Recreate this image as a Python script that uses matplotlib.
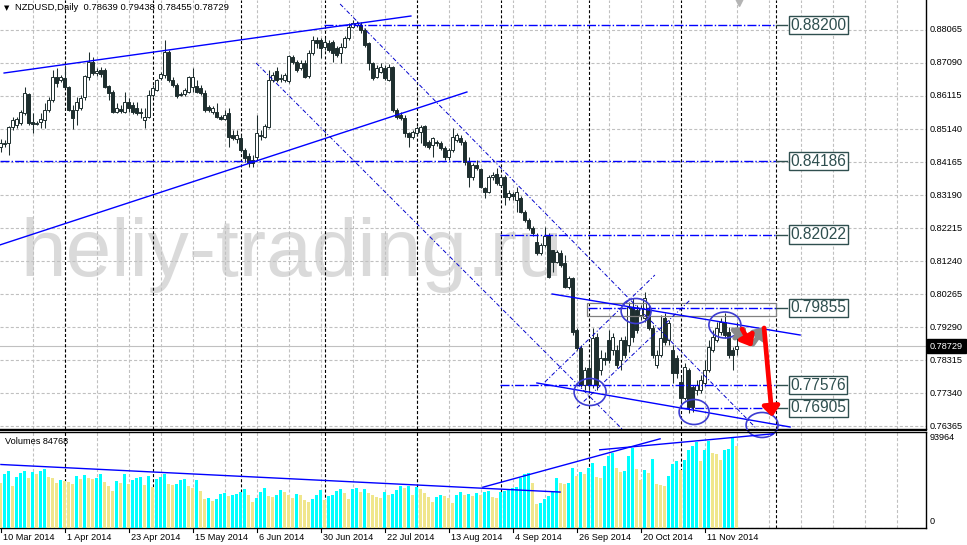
import matplotlib
matplotlib.use('Agg')
import matplotlib.pyplot as plt
from matplotlib.patches import Rectangle, Ellipse
from matplotlib.lines import Line2D

plt.rcParams['font.family'] = ['Liberation Sans', 'DejaVu Sans']
plt.rcParams['lines.scale_dashes'] = False

# ---------------- data ----------------
opens = [0.8461,0.8470,0.8473,0.8520,0.8526,0.8532,0.8561,0.8617,0.8535,0.8529,
         0.8535,0.8541,0.8570,0.8600,0.8668,0.8659,0.8665,0.8638,0.8570,0.8570,
         0.8576,0.8608,0.8668,0.8712,0.8679,0.8688,0.8688,0.8641,0.8623,0.8564,
         0.8573,0.8564,0.8594,0.8585,0.8576,0.8564,0.8541,0.8549,0.8614,0.8629,
         0.8665,0.8673,0.8741,0.8659,0.8644,0.8617,0.8617,0.8623,0.8638,0.8641,
         0.8635,0.8620,0.8579,0.8564,0.8564,0.8549,0.8543,0.8561,0.8496,0.8484,
         0.8487,0.8452,0.8434,0.8422,0.8431,0.8496,0.8490,0.8520,0.8659,0.8685,
         0.8662,0.8659,0.8656,0.8727,0.8712,0.8694,0.8709,0.8670,0.8738,0.8777,
         0.8777,0.8756,0.8768,0.8771,0.8753,0.8738,0.8756,0.8783,0.8815,0.8821,
         0.8821,0.8806,0.8768,0.8709,0.8668,0.8682,0.8694,0.8659,0.8697,0.8570,
         0.8555,0.8546,0.8502,0.8490,0.8502,0.8505,0.8523,0.8476,0.8467,0.8476,
         0.8473,0.8458,0.8431,0.8452,0.8481,0.8487,0.8476,0.8416,0.8372,0.8408,
         0.8396,0.8340,0.8328,0.8372,0.8381,0.8349,0.8372,0.8313,0.8322,0.8304,
         0.8310,0.8269,0.8245,0.8221,0.8180,0.8148,0.8171,0.8201,0.8156,0.8121,
         0.8148,0.8118,0.8047,0.8074,0.7920,0.7867,0.7758,0.7808,0.7758,0.7899,
         0.7802,0.7837,0.7891,0.7861,0.7861,0.7832,0.7891,0.7876,0.7988,0.7979,
         0.7965,0.7956,0.7979,0.7926,0.7817,0.7846,0.7956,0.7891,0.7861,0.7837,
         0.7767,0.7719,0.7802,0.7752,0.7743,0.7743,0.7764,0.7802,0.7861,0.7891,
         0.7914,0.7944,0.7914,0.7861,0.78639]
highs = [0.8484,0.8481,0.8523,0.8549,0.8549,0.8570,0.8638,0.8620,0.8561,0.8538,
         0.8561,0.8591,0.8608,0.8688,0.8694,0.8673,0.8703,0.8641,0.8585,0.8608,
         0.8614,0.8673,0.8741,0.8727,0.8694,0.8697,0.8694,0.8644,0.8629,0.8591,
         0.8585,0.8623,0.8606,0.8594,0.8594,0.8576,0.8576,0.8629,0.8644,0.8662,
         0.8682,0.8777,0.8747,0.8668,0.8650,0.8623,0.8635,0.8670,0.8694,0.8659,
         0.8644,0.8629,0.8585,0.8582,0.8591,0.8555,0.8570,0.8576,0.8511,0.8511,
         0.8496,0.8458,0.8443,0.8437,0.8555,0.8511,0.8529,0.8688,0.8682,0.8697,
         0.8676,0.8679,0.8733,0.8733,0.8718,0.8718,0.8718,0.8747,0.8789,0.8786,
         0.8783,0.8783,0.8777,0.8777,0.8759,0.8768,0.8789,0.8827,0.8836,0.8833,
         0.8830,0.8812,0.8771,0.8712,0.8703,0.8709,0.8703,0.8706,0.8700,0.8576,
         0.8564,0.8555,0.8505,0.8511,0.8523,0.8526,0.8526,0.8481,0.8490,0.8481,
         0.8478,0.8464,0.8458,0.8517,0.8502,0.8496,0.8481,0.8431,0.8413,0.8422,
         0.8399,0.8343,0.8378,0.8387,0.8399,0.8378,0.8378,0.8334,0.8328,0.8343,
         0.8316,0.8275,0.8251,0.8227,0.8207,0.8177,0.8224,0.8207,0.8156,0.8156,
         0.8156,0.8142,0.8080,0.8077,0.7926,0.7876,0.7811,0.7832,0.7926,0.7911,
         0.7861,0.7855,0.7920,0.7911,0.7876,0.7899,0.7902,0.8003,0.8015,0.7994,
         0.7994,0.8032,0.7994,0.7935,0.7861,0.7965,0.7970,0.7950,0.7876,0.7846,
         0.7781,0.7823,0.7808,0.7758,0.7772,0.7787,0.7832,0.7891,0.7920,0.7944,
         0.7956,0.7970,0.7929,0.7870,0.79438]
lows = [0.8446,0.8461,0.8437,0.8511,0.8517,0.8526,0.8555,0.8526,0.8502,0.8526,
        0.8517,0.8517,0.8564,0.8594,0.8638,0.8653,0.8635,0.8567,0.8514,0.8526,
        0.8570,0.8600,0.8659,0.8673,0.8670,0.8668,0.8635,0.8600,0.8561,0.8561,
        0.8561,0.8561,0.8564,0.8558,0.8555,0.8546,0.8517,0.8546,0.8608,0.8626,
        0.8659,0.8665,0.8653,0.8638,0.8606,0.8611,0.8611,0.8620,0.8623,0.8620,
        0.8614,0.8564,0.8564,0.8558,0.8546,0.8541,0.8541,0.8461,0.8481,0.8473,
        0.8446,0.8416,0.8402,0.8402,0.8422,0.8481,0.8487,0.8517,0.8653,0.8653,
        0.8653,0.8653,0.8650,0.8706,0.8682,0.8688,0.8665,0.8665,0.8733,0.8753,
        0.8724,0.8747,0.8741,0.8712,0.8727,0.8709,0.8753,0.8777,0.8812,0.8815,
        0.8798,0.8756,0.8688,0.8659,0.8665,0.8679,0.8659,0.8656,0.8564,0.8543,
        0.8541,0.8490,0.8461,0.8484,0.8496,0.8473,0.8461,0.8455,0.8431,0.8464,
        0.8452,0.8422,0.8422,0.8446,0.8476,0.8467,0.8408,0.8343,0.8363,0.8393,
        0.8340,0.8310,0.8325,0.8363,0.8349,0.8343,0.8289,0.8304,0.8304,0.8269,
        0.8266,0.8239,0.8216,0.8198,0.8142,0.8142,0.8165,0.8074,0.8092,0.8118,
        0.8106,0.8044,0.8041,0.7905,0.7861,0.7752,0.7743,0.7743,0.7749,0.7743,
        0.7787,0.7817,0.7823,0.7846,0.7808,0.7802,0.7837,0.7855,0.7885,0.7911,
        0.7950,0.7944,0.7920,0.7837,0.7808,0.7840,0.7876,0.7876,0.7764,0.7778,
        0.7707,0.7713,0.7675,0.7678,0.7728,0.7734,0.7755,0.7796,0.7855,0.7885,
        0.7905,0.7897,0.7837,0.7802,0.78455]
closes = [0.8473,0.8473,0.8520,0.8541,0.8543,0.8564,0.8620,0.8532,0.8529,0.8532,
          0.8543,0.8570,0.8600,0.8668,0.8650,0.8668,0.8638,0.8570,0.8546,0.8594,
          0.8606,0.8670,0.8712,0.8679,0.8685,0.8676,0.8638,0.8620,0.8564,0.8576,
          0.8567,0.8594,0.8576,0.8564,0.8561,0.8561,0.8549,0.8614,0.8635,0.8659,
          0.8676,0.8741,0.8659,0.8644,0.8611,0.8614,0.8629,0.8668,0.8668,0.8623,
          0.8620,0.8570,0.8570,0.8576,0.8549,0.8543,0.8555,0.8490,0.8487,0.8496,
          0.8452,0.8428,0.8413,0.8413,0.8502,0.8493,0.8523,0.8659,0.8673,0.8659,
          0.8665,0.8673,0.8730,0.8712,0.8688,0.8709,0.8668,0.8738,0.8777,0.8768,
          0.8753,0.8771,0.8747,0.8738,0.8733,0.8756,0.8783,0.8815,0.8827,0.8827,
          0.8806,0.8762,0.8709,0.8665,0.8694,0.8697,0.8665,0.8697,0.8570,0.8549,
          0.8546,0.8502,0.8490,0.8505,0.8517,0.8520,0.8467,0.8461,0.8487,0.8473,
          0.8458,0.8431,0.8452,0.8490,0.8496,0.8476,0.8416,0.8372,0.8408,0.8399,
          0.8343,0.8328,0.8372,0.8378,0.8354,0.8372,0.8313,0.8325,0.8316,0.8328,
          0.8269,0.8245,0.8221,0.8207,0.8148,0.8171,0.8198,0.8077,0.8121,0.8151,
          0.8112,0.8047,0.8074,0.7914,0.7867,0.7758,0.7802,0.7758,0.7897,0.7758,
          0.7837,0.7832,0.7832,0.7899,0.7817,0.7891,0.7846,0.7988,0.7899,0.7920,
          0.7985,0.8015,0.7926,0.7846,0.7846,0.7897,0.7885,0.7941,0.7793,0.7793,
          0.7719,0.7811,0.7693,0.7693,0.7758,0.7772,0.7802,0.7870,0.7899,0.7926,
          0.7944,0.7905,0.7846,0.7846,0.78729]
volumes = [46980,56376,59508,43848,53244,57420,59508,52200,58464,56376,
           59508,61596,53244,52200,46980,50112,49068,48024,45936,54288,
           51156,55332,52200,51156,52200,56376,48024,43848,38628,49068,
           46980,56376,45936,50112,52200,53244,44892,54288,42804,51156,
           53244,56376,45936,44892,45936,50112,51156,43848,41760,50112,
           38628,30276,31320,28188,30276,35496,36540,33408,34452,35496,
           37584,40716,34452,27144,31320,37584,41760,33408,32364,34452,
           39672,37584,34452,31320,35496,34452,29232,27144,30276,34452,
           39672,29232,33408,34452,38628,40716,36540,30276,40716,41760,
           37584,40716,36540,34452,32364,31320,37584,34452,35496,39672,
           43848,41760,43848,34452,42804,40716,36540,32364,27144,32364,
           34452,33408,31320,26100,34452,37584,34452,35496,33408,36540,34452,
           37584,38628,32364,31320,37584,38628,40716,41760,42804,52200,
           56376,57420,46980,25056,26100,30276,33408,37584,52200,46980,
           45936,46980,62640,54288,58464,56376,62640,67860,53244,52200,
           64728,75168,78300,62640,58464,59508,75168,83520,61596,50112,
           60552,57420,72036,45936,44892,43848,54288,66816,69948,60552,
           70992,81432,85608,89784,69948,81432,90828,78300,77256,70992,
           81432,82476,93964,84768]

date_labels = ["10 Mar 2014", "1 Apr 2014", "23 Apr 2014", "15 May 2014", "6 Jun 2014",
               "30 Jun 2014", "22 Jul 2014", "13 Aug 2014", "4 Sep 2014", "26 Sep 2014",
               "20 Oct 2014", "11 Nov 2014"]
date_label_bars = [0, 16, 32, 48, 64, 80, 96, 112, 128, 144, 160, 176]
month_separator_bars = [16, 38, 60, 81, 104, 125, 147, 170, 193.9]

price_ticks = [0.88065, 0.87090, 0.86115, 0.85140, 0.84165, 0.83190, 0.82215,
               0.81240, 0.80265, 0.79290, 0.78315, 0.77340, 0.76365]
current_price = 0.78729

level_prices = [0.88200, 0.84186, 0.82022, 0.79855, 0.77576, 0.76905]
level_labels = ["0.88200", "0.84186", "0.82022", "0.79855", "0.77576", "0.76905"]
level_start_bars = [80.9, -0.2, 124.9, 146.9, 124.9, 169.9]
level_end_bar = 193.9
level_box_bar = 197.4
zone_box = (146.7, 193.9, 0.79624, 0.79985)   # bar from, bar to, price low, price high

# solid trend lines ((bar, price), (bar, price))
trend_lines = [((0.9, 0.86794), (102.6, 0.88478)),
               ((-0.2, 0.81713), (116.6, 0.86233)),
               ((137.9, 0.80266), (199.9, 0.79054)),
               ((134.1, 0.77637), (197.4, 0.76337))]
# thin dash-dot diagonals
diag_lines = [((63.9, 0.87090), (155.4, 0.76278)),
              ((84.9, 0.88833), (189.1, 0.76278)),
              ((136.1, 0.77666), (163.6, 0.80827)),
              ((144.1, 0.76898), (172.4, 0.80088))]
ellipses = [(147.4, 0.77371, 8.0, 0.00798),
            (158.9, 0.79763, 7.5, 0.00739),
            (181.1, 0.79350, 8.0, 0.00768),
            (173.4, 0.76780, 7.5, 0.00739),
            (190.4, 0.76396, 8.0, 0.00739)]
gray_arrows = [((183.6, 0.78966), (186.4, 0.79291)),
               ((188.1, 0.78789), (191.1, 0.79291))]
red_arrows = [((185.4, 0.79232), (187.9, 0.78700)),
              ((190.9, 0.79261), (192.9, 0.76632))]
# volume trend lines ((bar, volume), (bar, volume))
vol_lines = [((0.1, 65772), (139.9, 37000)),
             ((120.6, 42073), (164.9, 92603)),
             ((149.8, 81119), (193.1, 97822))]

# ---------------- figure ----------------
W, H = 967, 545
fig = plt.figure(figsize=(W / 100, H / 100), dpi=100)
fig.patch.set_facecolor('white')

P_TOP, P_BOT = 0.0, 428.5
V_TOP, V_BOT = 431.5, 527.5
RIGHT = 926
axp = fig.add_axes([0, 1 - P_BOT / H, RIGHT / W, (P_BOT - P_TOP) / H])
axv = fig.add_axes([0, 1 - V_BOT / H, RIGHT / W, (V_BOT - V_TOP) / H])
XL = (-0.125, (RIGHT - 0.5) / 4)
for ax in (axp, axv):
    ax.set_xlim(*XL)
    ax.set_facecolor('none')
    ax.spines['left'].set_visible(False)
    ax.spines['top'].set_visible(False)
    ax.spines['right'].set_linewidth(1.0)
    ax.spines['bottom'].set_linewidth(1.0)
    ax.tick_params(left=False, bottom=False, right=False, top=False,
                   labelleft=False, labelbottom=False)
axv.spines['top'].set_visible(True)
axv.spines['top'].set_linewidth(1.0)
axp.set_ylim(0.76292, 0.88951)
axv.set_ylim(0, 93964 * 96.0 / 90.0)

CAND = '#1e2e2e'
GRID = '#c0c0c0'
grid_dash = (0, (2.2, 1.5))

# watermark
fig.text(20 / W, 1 - 276 / H, 'heliy-trading.ru', fontsize=59, color='#dadada',
         ha='left', va='baseline', zorder=-5, family=['Liberation Sans'])

# grid
for k in range(1, 30):
    for ax in (axp, axv):
        ax.axvline(8 * k, color=GRID, lw=0.8, ls=grid_dash, zorder=1)
for p in price_ticks:
    axp.axhline(p, color=GRID, lw=0.8, ls=grid_dash, zorder=1)
axv.axhline(0, color=GRID, lw=0.8, ls=grid_dash, zorder=1)
for b in month_separator_bars:
    for ax in (axp, axv):
        ax.axvline(b, color='black', lw=0.8, ls=grid_dash, zorder=2)

# current price line
axp.axhline(current_price, color='#c0c0c0', lw=0.8, zorder=1.5)

# candles
n = len(opens)
for i in range(n):
    o, h, l, c = opens[i], highs[i], lows[i], closes[i]
    axp.plot([i, i], [l, h], color=CAND, lw=0.75, zorder=3, solid_capstyle='butt')
    bull = c >= o
    y0 = min(o, c)
    hgt = max(abs(c - o), 0.00004)
    axp.add_patch(Rectangle((i - 0.3, y0), 0.6, hgt, facecolor='white' if bull else CAND,
                            edgecolor=CAND, lw=0.7, zorder=4))

# volumes
vol_colors = ['#00FFFF' if (i > 0 and volumes[i] > volumes[i - 1]) else '#F0E68C'
              for i in range(n)]
axv.bar(range(n), volumes, width=0.8, color=vol_colors, linewidth=0, zorder=3,
        antialiased=False)

BLUE = '#0000FF'
lvl_dash = (0, (6.5, 1.5, 1.0, 1.5))
thin_dash = (0, (3.0, 1.5, 0.8, 1.5))
SLATE = '#2F4F4F'

# zone rectangle
axp.add_patch(Rectangle((zone_box[0], zone_box[2]), zone_box[1] - zone_box[0],
                        zone_box[3] - zone_box[2], fill=False, ec='#808080', lw=0.9, zorder=5))

# levels
for p, lab, s in zip(level_prices, level_labels, level_start_bars):
    axp.plot([s, level_end_bar], [p, p], color=BLUE, lw=1.0, ls=lvl_dash, zorder=6)
    axp.plot([level_end_bar, level_box_bar - 0.7], [p, p], color=SLATE, lw=1.0, zorder=6)
    axp.text(level_box_bar, p, lab, fontsize=11.2, color=SLATE, ha='left', va='center',
             zorder=8, clip_on=False,
             bbox=dict(boxstyle='square,pad=0.1', fc='white', ec=SLATE, lw=1.0))

for (a, b) in trend_lines:
    axp.plot([a[0], b[0]], [a[1], b[1]], color=BLUE, lw=1.0, zorder=6)
for (a, b) in diag_lines:
    axp.plot([a[0], b[0]], [a[1], b[1]], color='#0000CC', lw=0.7, ls=thin_dash, zorder=6)
for (cx, cy, w, hh) in ellipses:
    axp.add_patch(Ellipse((cx, cy), w, hh, fill=False, ec='#3c3cd2', lw=1.2, zorder=7,
                          clip_on=False))
for (a, b) in gray_arrows:
    axp.annotate('', xy=b, xytext=a, zorder=8,
                 arrowprops=dict(arrowstyle='-|>,head_width=0.5,head_length=0.55',
                                 color='#8a8a8a', lw=3.6, shrinkA=0, shrinkB=0))
for (a, b) in red_arrows:
    axp.annotate('', xy=b, xytext=a, zorder=9,
                 arrowprops=dict(arrowstyle='-|>,head_width=0.5,head_length=0.6',
                                 color='#ff0000', lw=3.4, shrinkA=0, shrinkB=0))
for (a, b) in vol_lines:
    axv.plot([a[0], b[0]], [a[1], b[1]], color=BLUE, lw=1.0, zorder=6, clip_on=False)

# extra line between panels (double border)
fig.add_artist(Line2D([0, RIGHT / W], [1 - 430 / H, 1 - 430 / H], color='black', lw=0.8))

# right axis labels
for p in price_ticks:
    y = axp.transData.transform((0, p))[1] / fig.dpi / (H / 100)
    fig.text(930 / W, y, '%.5f' % p, fontsize=6.6, color='black', ha='left', va='center')
ycp = axp.transData.transform((0, current_price))[1] / fig.dpi / (H / 100)
fig.text(930 / W, ycp, '%.5f' % current_price, fontsize=6.6, color='white', ha='left',
         va='center', bbox=dict(boxstyle='square,pad=0.3', fc='black', ec='black'))

fig.text(930 / W, 1 - 438 / H, '93964', fontsize=6.6, ha='left', va='center')
fig.text(930 / W, 1 - 521 / H, '0', fontsize=6.6, ha='left', va='center')
fig.text(5 / W, 1 - 441 / H, 'Volumes 84768', fontsize=6.6, ha='left', va='center')

# header
fig.text(4 / W, 1 - 8 / H, '\u25BC', fontsize=5, ha='left', va='center', family=['DejaVu Sans'])
fig.text(15 / W, 1 - 8 / H, 'NZDUSD,Daily  0.78639 0.79438 0.78455 0.78729', fontsize=6.8,
         ha='left', va='center')

# small gray marker at top
axp.plot([184.6], [0.8890], marker='v', color='#b4b4b4', markersize=6, zorder=5, clip_on=False)

# date axis
for b, lab in zip(date_label_bars, date_labels):
    xp = 0.5 + 4 * b
    fig.add_artist(Line2D([xp / W, xp / W], [1 - 528 / H, 1 - 532 / H], color='black', lw=0.8))
    fig.text((xp + 2.5) / W, 1 - 537 / H, lab, fontsize=6.6, ha='left', va='center')

fig.savefig('out.png', dpi=100, facecolor='white')
